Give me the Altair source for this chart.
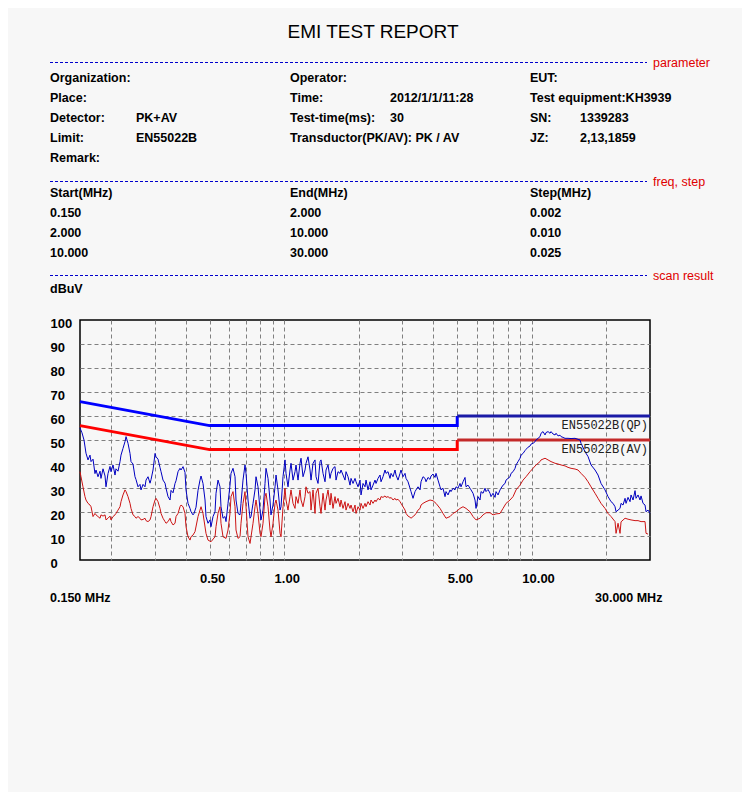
import altair as alt
import pandas as pd

# ---------------- data ----------------
# PK (blue) scan trace: (frequency MHz, level dBuV)
pk_trace = [
    (0.150,55.0),(0.1528,53.0),(0.1557,50.0),(0.1586,44.5),(0.1616,41.7),(0.1646,43.7),(0.1662,41.0),(0.1693,42.0),
    (0.1724,36.0),(0.1741,37.5),(0.1773,34.7),(0.1807,37.0),(0.1823,34.0),(0.1858,38.0),(0.1893,35.0),(0.1910,30.5),
    (0.1946,36.0),(0.1983,39.0),(0.2001,36.8),(0.2039,39.6),(0.2077,35.4),(0.2096,38.0),(0.2136,37.0),(0.2176,41.0),
    (0.2196,43.7),(0.2237,46.5),(0.2279,49.3),(0.2301,51.4),(0.2344,48.6),(0.2388,44.4),(0.2410,41.0),(0.2455,40.0),
    (0.2501,34.7),(0.2525,33.5),(0.2572,30.5),(0.2620,31.5),(0.2645,29.2),(0.2695,31.5),(0.2745,30.5),(0.2771,33.3),
    (0.2823,34.7),(0.2876,32.0),(0.2903,33.5),(0.2957,37.5),(0.3013,44.4),(0.3041,43.0),(0.3098,42.0),(0.3156,38.5),
    (0.3186,36.8),(0.3245,33.3),(0.3306,32.0),(0.3337,29.9),(0.3400,26.4),(0.3464,25.0),(0.3496,29.0),(0.3562,28.0),
    (0.3628,31.9),(0.3662,33.0),(0.3731,36.8),(0.3800,38.2),(0.3836,37.5),(0.3909,38.9),(0.3981,36.5),(0.4018,29.2),
    (0.4094,23.6),(0.4171,21.5),(0.4210,20.1),(0.4289,18.8),(0.4329,19.4),(0.4410,22.0),(0.4493,29.0),(0.4577,33.3),
    (0.4620,35.0),(0.4706,31.9),(0.4795,25.0),(0.4839,18.1),(0.4930,15.3),(0.5023,16.7),(0.5070,13.9),(0.5165,18.1),
    (0.5262,20.1),(0.5311,27.8),(0.5410,33.3),(0.5512,30.5),(0.5563,22.2),(0.5668,17.4),(0.5774,18.1),(0.5828,16.0),
    (0.5938,23.6),(0.6049,31.2),(0.6105,36.1),(0.6220,38.2),(0.6337,34.7),(0.6396,25.0),(0.6516,19.4),(0.6638,18.8),
    (0.6700,23.6),(0.6826,33.3),(0.6954,39.6),(0.7019,36.1),(0.7151,25.0),(0.7285,17.4),(0.7353,18.1),(0.7491,23.6),
    (0.7631,29.2),(0.7703,34.7),(0.7847,30.5),(0.7995,20.8),(0.8069,16.7),(0.8221,20.8),(0.8375,31.9),(0.8453,38.2),
    (0.8612,34.0),(0.8773,25.0),(0.8855,18.8),(0.9021,22.9),(0.9191,30.5),(0.9277,35.4),(0.9451,29.2),(0.9628,20.8),
    (0.9718,22.2),(0.9900,34.7),(1.0086,41.7),(1.0180,36.1),(1.0371,30.5),(1.0566,37.5),(1.0665,40.3),(1.0865,33.3),
    (1.1069,36.8),(1.1172,39.6),(1.1382,33.3),(1.1595,40.3),(1.1704,42.4),(1.1923,34.7),(1.2147,37.5),(1.2260,40.3),
    (1.2491,43.0),(1.2725,37.5),(1.2844,33.3),(1.3085,40.3),(1.3330,41.7),(1.3455,34.7),(1.3707,31.9),(1.3964,41.0),
    (1.4095,41.7),(1.4359,36.1),(1.4629,32.6),(1.4765,37.5),(1.5043,39.6),(1.5325,34.0),(1.5468,36.1),(1.5758,38.2),
    (1.6054,38.9),(1.6204,33.3),(1.6508,36.8),(1.6818,36.1),(1.6975,37.5),(1.7293,35.4),(1.7618,33.3),(1.7782,36.8),
    (1.8116,34.7),(1.8456,31.2),(1.8628,34.0),(1.8978,31.9),(1.9334,34.0),(1.9515,32.6),(1.9881,30.5),(2.0254,33.3),
    (2.0443,27.1),(2.0827,31.9),(2.1218,30.5),(2.1416,33.3),(2.1818,29.2),(2.2227,32.6),(2.2435,29.2),(2.2856,31.2),
    (2.3285,33.3),(2.3502,31.9),(2.3943,34.0),(2.4392,35.4),(2.4620,32.6),(2.5082,34.7),(2.5553,37.5),(2.5792,36.1),
    (2.6276,36.8),(2.6769,34.0),(2.7019,36.1),(2.7526,34.7),(2.8042,37.5),(2.8304,35.4),(2.8836,33.3),(2.9376,36.1),
    (2.9651,37.5),(3.0207,34.7),(3.0774,36.1),(3.1061,34.0),(3.1645,32.6),(3.2238,29.9),(3.2539,28.5),(3.3150,25.7),
    (3.3772,28.5),(3.4088,29.2),(3.4727,30.5),(3.5379,29.2),(3.5709,32.6),(3.6379,34.7),(3.7062,34.0),(3.7408,32.6),
    (3.8110,34.4),(3.8825,33.6),(3.9188,35.0),(3.9923,35.8),(4.0672,34.4),(4.1052,36.1),(4.1823,33.3),(4.2607,30.5),
    (4.3005,29.2),(4.3813,29.9),(4.4635,26.4),(4.5052,28.5),(4.5897,27.1),(4.6758,29.2),(4.7195,28.5),(4.8081,29.9),
    (4.8983,29.2),(4.9440,30.5),(5.0368,29.9),(5.1313,31.9),(5.1792,30.5),(5.2765,32.6),(5.3754,34.4),(5.4257,30.5),
    (5.5275,31.2),(5.6312,29.9),(5.6838,29.2),(5.7905,27.8),(5.8991,25.0),(5.9542,21.5),(6.0660,26.4),(6.1798,25.0),
    (6.2375,28.5),(6.3546,27.8),(6.4738,29.9),(6.5342,28.5),(6.6569,29.4),(6.7818,27.8),(6.8451,26.4),(6.9736,27.8),
    (7.1044,26.1),(7.1708,28.5),(7.3054,27.1),(7.4424,29.2),(7.5119,29.9),(7.6529,31.2),(7.7965,31.9),(7.8693,33.3),
    (8.0170,34.0),(8.1674,34.7),(8.2437,36.1),(8.3985,36.8),(8.5560,38.2),(8.6359,39.6),(8.7980,41.0),(8.9631,42.4),
    (9.0468,43.7),(9.2166,44.4),(9.3895,45.6),(9.4772,46.1),(9.6551,47.0),(9.8362,47.5),(9.9281,48.3),(10.114,48.6),
    (10.304,49.3),(10.400,50.0),(10.596,50.7),(10.794,51.4),(10.895,52.8),(11.100,53.5),(11.308,52.1),(11.414,53.1),
    (11.628,53.5),(11.846,52.8),(11.957,53.5),(12.181,52.5),(12.410,52.1),(12.526,52.8),(12.761,51.7),(13.000,52.0),
    (13.121,51.4),(13.368,51.1),(13.619,50.7),(14.004,50.7),(14.400,50.6),(14.945,50.7),(15.368,50.3),(15.656,50.0),
    (15.802,48.6),(16.401,45.1),(16.865,43.1),(17.342,39.6),(17.999,37.5),(18.508,35.4),(19.031,31.9),(19.752,29.2),
    (20.311,26.4),(20.885,24.3),(21.277,23.6),(21.677,22.2),(21.879,20.1),(22.290,20.8),(22.708,21.5),(22.920,23.6),
    (23.350,22.9),(23.788,25.7),(24.010,23.6),(24.461,26.1),(24.920,24.3),(25.153,27.1),(25.625,25.0),(26.106,28.9),
    (26.349,25.7),(26.844,27.1),(27.348,25.0),(27.603,26.7),(28.121,23.6),(28.649,22.9),(28.916,20.1),(29.459,20.8),
    (30.000,19.5),
]

# AV (red) scan trace: (frequency MHz, level dBuV)
av_trace = [
    (0.150,36.8),(0.1514,34.7),(0.1542,30.5),(0.1571,26.4),(0.1586,25.0),(0.1616,23.6),(0.1646,22.9),(0.1662,22.2),
    (0.1693,18.1),(0.1724,19.4),(0.1741,18.8),(0.1773,18.1),(0.1807,17.4),(0.1823,18.8),(0.1858,18.3),(0.1893,18.8),
    (0.1910,16.7),(0.1946,17.4),(0.1983,18.3),(0.2001,16.7),(0.2039,18.1),(0.2077,18.8),(0.2096,19.4),(0.2136,20.8),
    (0.2176,22.2),(0.2196,24.3),(0.2237,27.1),(0.2279,29.2),(0.2301,28.5),(0.2344,26.4),(0.2388,23.6),(0.2410,21.5),
    (0.2455,18.8),(0.2501,18.1),(0.2525,17.4),(0.2572,18.1),(0.2620,17.4),(0.2645,16.7),(0.2695,16.9),(0.2745,17.4),
    (0.2771,16.4),(0.2823,16.0),(0.2876,16.7),(0.2903,18.1),(0.2957,22.2),(0.3013,25.0),(0.3041,25.7),(0.3098,24.3),
    (0.3156,21.5),(0.3186,19.4),(0.3245,17.4),(0.3306,16.0),(0.3337,15.3),(0.3400,16.0),(0.3464,17.4),(0.3496,16.0),
    (0.3562,14.6),(0.3628,15.3),(0.3662,18.1),(0.3731,19.4),(0.3800,22.2),(0.3836,22.9),(0.3909,22.2),(0.3981,19.4),
    (0.4018,13.9),(0.4094,9.7),(0.4171,8.3),(0.4210,9.7),(0.4289,10.4),(0.4369,11.8),(0.4493,18.1),(0.4620,22.2),
    (0.4706,19.4),(0.4839,11.1),(0.4930,8.3),(0.5070,7.6),(0.5262,9.7),(0.5311,13.9),(0.5410,19.4),(0.5512,22.2),
    (0.5563,15.3),(0.5668,9.7),(0.5828,9.0),(0.5938,12.5),(0.6049,19.4),(0.6105,26.4),(0.6220,28.5),(0.6337,22.2),
    (0.6396,12.5),(0.6516,9.0),(0.6638,9.7),(0.6700,15.3),(0.6826,23.6),(0.6954,28.5),(0.7019,22.2),(0.7151,9.7),
    (0.7285,6.9),(0.7353,9.7),(0.7491,15.3),(0.7631,22.2),(0.7703,25.0),(0.7847,19.4),(0.7995,11.1),(0.8069,9.7),
    (0.8221,15.3),(0.8375,26.4),(0.8453,27.8),(0.8612,22.2),(0.8773,12.5),(0.8855,9.7),(0.9021,15.3),(0.9191,23.6),
    (0.9277,25.0),(0.9451,20.8),(0.9628,11.1),(0.9718,9.7),(0.9900,22.2),(1.0086,29.9),(1.0180,25.0),(1.0371,20.8),
    (1.0566,26.4),(1.0665,29.2),(1.0865,23.6),(1.1069,21.5),(1.1172,26.4),(1.1382,23.6),(1.1595,29.2),(1.1704,25.0),
    (1.1923,22.2),(1.2147,26.4),(1.2260,30.5),(1.2491,27.8),(1.2725,28.5),(1.2844,20.8),(1.3085,29.2),(1.3330,19.4),
    (1.3455,27.8),(1.3707,29.9),(1.3964,22.2),(1.4095,19.4),(1.4359,27.8),(1.4629,20.8),(1.4765,25.0),(1.5043,29.2),
    (1.5325,22.9),(1.5468,27.8),(1.5758,21.5),(1.6054,26.4),(1.6204,23.6),(1.6508,25.7),(1.6818,22.2),(1.6975,25.0),
    (1.7293,21.5),(1.7618,24.3),(1.7782,20.8),(1.8116,23.6),(1.8456,21.5),(1.8628,22.9),(1.8978,20.1),(1.9334,22.9),
    (1.9515,19.4),(1.9881,22.2),(2.0254,20.8),(2.0443,23.6),(2.0827,21.5),(2.1218,23.6),(2.1416,22.2),(2.1818,24.3),
    (2.2227,22.9),(2.2435,25.0),(2.2856,23.6),(2.3285,25.0),(2.3502,24.3),(2.3943,25.7),(2.4392,25.0),(2.4620,26.4),
    (2.5082,26.1),(2.5553,26.7),(2.5792,26.1),(2.6276,26.4),(2.6769,25.7),(2.7019,26.1),(2.7526,25.0),(2.8042,25.7),
    (2.8304,25.0),(2.8836,25.3),(2.9376,24.3),(2.9651,23.6),(3.0207,22.2),(3.0774,20.8),(3.1061,19.4),(3.1645,18.3),
    (3.2238,17.8),(3.2539,17.4),(3.3150,18.1),(3.3772,18.8),(3.4088,19.4),(3.4727,20.8),(3.5379,21.5),(3.5709,22.9),
    (3.6379,23.6),(3.7408,24.3),(3.8825,25.0),(3.9923,24.7),(4.1052,23.6),(4.2607,21.5),(4.3813,19.4),(4.5052,17.4),
    (4.6758,18.1),(4.8081,19.4),(4.9440,20.1),(5.1313,21.5),(5.2765,22.2),(5.4257,21.5),(5.6312,20.1),(5.7905,18.1),
    (5.9542,16.7),(6.1798,17.4),(6.3546,18.8),(6.5342,19.7),(6.7818,19.7),(6.9736,18.8),(7.1708,19.2),(7.4424,19.4),
    (7.6529,21.5),(7.8693,23.6),(8.1674,25.0),(8.3985,26.4),(8.6359,29.2),(8.9631,31.2),(9.2166,33.3),(9.4772,34.7),
    (9.8362,36.8),(10.114,38.2),(10.400,39.6),(10.794,41.0),(10.895,41.7),(11.308,42.4),(11.628,41.7),(11.957,41.0),
    (12.410,40.3),(12.761,40.0),(13.121,39.6),(13.619,39.2),(14.004,38.6),(14.400,38.2),(14.945,37.9),(15.368,37.5),
    (15.802,36.1),(16.401,34.4),(16.865,32.6),(17.342,30.5),(17.999,27.8),(18.508,25.7),(19.031,23.6),(19.752,21.5),
    (20.311,19.4),(20.885,18.1),(21.677,16.0),(21.879,11.1),(22.290,15.3),(22.708,11.1),(22.920,15.9),(23.788,17.4),
    (24.461,17.0),(25.153,16.7),(26.106,16.4),(26.844,16.4),(27.603,16.0),(28.649,16.0),(28.916,11.1),(29.459,10.8),
]

# EN55022B limit lines
limit_freq = [0.15, 0.5, 5.0, 5.0, 30.0]
limit_qp = [66, 56, 56, 60, 60]
limit_av = [56, 46, 46, 50, 50]
limit_names = ["EN55022B(QP)", "EN55022B(AV)"]

grid_freq = [0.2, 0.3, 0.4, 0.5, 0.6, 0.7, 0.8, 0.9, 1, 2, 3, 4, 5, 6, 7, 8, 9, 10, 20]
x_label_freq = [0.5, 1, 5, 10]
y_ticks = [0, 10, 20, 30, 40, 50, 60, 70, 80, 90, 100]

title_text = "EMI TEST REPORT"
section_labels = ["parameter", "freq, step", "scan result"]
param_rows = [
    ["Organization:", "", "Operator:", "", "EUT:", ""],
    ["Place:", "", "Time:", "2012/1/1/11:28", "Test equipment:KH3939", ""],
    ["Detector:", "PK+AV", "Test-time(ms):", "30", "SN:", "1339283"],
    ["Limit:", "EN55022B", "Transductor(PK/AV): PK  /  AV", "", "JZ:", "2,13,1859"],
    ["Remark:", "", "", "", "", ""],
]
freq_header = ["Start(MHz)", "End(MHz)", "Step(MHz)"]
freq_rows = [
    ["0.150", "2.000", "0.002"],
    ["2.000", "10.000", "0.010"],
    ["10.000", "30.000", "0.025"],
]
unit_label = "dBuV"
range_labels = ["0.150 MHz", "30.000 MHz"]

# ---------------- layout (pixels relative to the plot frame) ----------------
W, H = 570, 240
FONT = "Liberation Sans"
MONO = "Liberation Mono"
param_col_x = [-30, 56, 210, 310, 450, 500]
param_row_y = [-242, -222, -202, -182, -162]
freq_col_x = [-30, 210, 450]
freq_row_y = [-127, -107, -87, -67]
section_y = [-257.5, -138.5, -44.5]
range_pos = [(-30, 278), (515, 278)]

x_scale = alt.Scale(type="log", domain=[0.15, 30], nice=False)
y_scale = alt.Scale(domain=[0, 100], nice=False)

label_list = "[" + ",".join(str(v) for v in x_label_freq) + "]"
X_AXIS = alt.Axis(
    values=grid_freq, title=None, grid=True, gridColor="#808080", gridDash=[4, 3], gridWidth=1,
    ticks=False, tickSize=0, domain=False,
    labelExpr=f"indexof({label_list}, datum.value) >= 0 ? format(datum.value, '.2f') : ''",
    labelFont=FONT, labelFontSize=13, labelFontWeight="bold",
    labelColor="black", labelAlign="left", labelOffset=-10, labelPadding=12,
    labelFlush=False, labelOverlap=False,
)
Y_AXIS = alt.Axis(
    values=y_ticks, title=None, grid=True, gridColor="#808080", gridDash=[4, 3], gridWidth=1,
    gridOpacity={"condition": {"test": "datum.value === 0 || datum.value === 100", "value": 0}, "value": 1},
    ticks=False, tickSize=0, domain=False,
    labelFont=FONT, labelFontSize=13, labelFontWeight="bold", labelColor="black",
    labelAlign="left", labelPadding=30, labelOffset=3, labelBaseline="middle",
)

def X(field):
    return alt.X(field, scale=x_scale, axis=X_AXIS)

def Y(field):
    return alt.Y(field, scale=y_scale, axis=Y_AXIS)

# ---------------- plot layers ----------------
seg_colors = {"QP_left": "#0000ff", "QP_right": "#1a1aa6", "AV_left": "#ff0000", "AV_right": "#c42a2a"}
lim_rows = []
for name, vals in (("QP", limit_qp), ("AV", limit_av)):
    for i, (f, v) in enumerate(zip(limit_freq, vals)):
        segs = ["left", "right"] if i == 3 else (["left"] if i < 3 else ["right"])
        for sg in segs:
            key = name + "_" + sg
            lim_rows.append({"f": f, "v": v, "s": key, "c": seg_colors[key], "i": i})
lim_df = pd.DataFrame(lim_rows)

limits = alt.Chart(lim_df).mark_line(strokeWidth=3).encode(
    x=X("f:Q"),
    y=Y("v:Q"),
    color=alt.Color("c:N", scale=None),
    detail="s:N",
    order=alt.Order("i:Q"),
)

trace_colors = {"PK": "#0000c0", "AV": "#cc1414"}
trace_df = pd.DataFrame(
    [{"f": f, "v": v, "s": "PK", "c": trace_colors["PK"], "i": k} for k, (f, v) in enumerate(pk_trace)]
    + [{"f": f, "v": v, "s": "AV", "c": trace_colors["AV"], "i": k} for k, (f, v) in enumerate(av_trace)]
)

traces = alt.Chart(trace_df).mark_line(strokeWidth=1).encode(
    x=X("f:Q"),
    y=Y("v:Q"),
    color=alt.Color("c:N", scale=None),
    detail="s:N",
    order=alt.Order("i:Q"),
)

lim_label_df = pd.DataFrame({"f": [30.0, 30.0], "v": [limit_qp[-1], limit_av[-1]], "t": limit_names})
lim_labels = alt.Chart(lim_label_df).mark_text(
    align="right", baseline="middle", dx=-2, dy=9, font=MONO, fontSize=12, color="#202020"
).encode(x=X("f:Q"), y=Y("v:Q"), text="t:N")

plot = alt.layer(limits, traces, lim_labels)

# ---------------- report text layers ----------------
def px_text(df, **kw):
    return alt.Chart(df).mark_text(**kw).encode(
        x=alt.X("px:Q", scale=None, axis=None),
        y=alt.Y("py:Q", scale=None, axis=None),
        text="t:N",
    )

title_df = pd.DataFrame({"px": [293], "py": [-288], "t": [title_text]})
title_layer = px_text(title_df, align="center", baseline="middle", font=FONT, fontSize=19, color="black")

hdr = []
for r, row in enumerate(param_rows):
    for c, txt in enumerate(row):
        if txt:
            hdr.append({"px": param_col_x[c], "py": param_row_y[r], "t": txt})
for c, txt in enumerate(freq_header):
    hdr.append({"px": freq_col_x[c], "py": freq_row_y[0], "t": txt})
for r, row in enumerate(freq_rows):
    for c, txt in enumerate(row):
        hdr.append({"px": freq_col_x[c], "py": freq_row_y[r + 1], "t": txt})
hdr.append({"px": -30, "py": -31, "t": unit_label})
for (x0, y0), txt in zip(range_pos, range_labels):
    hdr.append({"px": x0, "py": y0, "t": txt})
hdr_layer = px_text(pd.DataFrame(hdr), align="left", baseline="middle", font=FONT,
                    fontSize=12.5, fontWeight="bold", color="black")

sec_df = pd.DataFrame({"py": section_y, "t": section_labels, "px": [573] * 3})
sec_lines = alt.Chart(sec_df).mark_rule(color="#0000cc", strokeDash=[3, 2], strokeWidth=1).encode(
    y=alt.Y("py:Q", scale=None, axis=None), x=alt.value(-30), x2=alt.value(567)
)
sec_text = px_text(sec_df, align="left", baseline="middle", font=FONT, fontSize=12.5, color="#e00000")

decor = alt.layer(title_layer, hdr_layer, sec_lines, sec_text)

chart = (
    alt.layer(plot, decor)
    .resolve_scale(x="independent", y="independent")
    .properties(
        width=W,
        height=H,
        autosize=alt.AutoSizeParams(type="none"),
        padding={"left": 72, "top": 312, "right": 92, "bottom": 232},
    )
    .configure(background="#f7f7f7")
    .configure_view(stroke="black", strokeWidth=1.5)
)

chart.save("out.html", embed_options={"renderer": "svg", "actions": False})
